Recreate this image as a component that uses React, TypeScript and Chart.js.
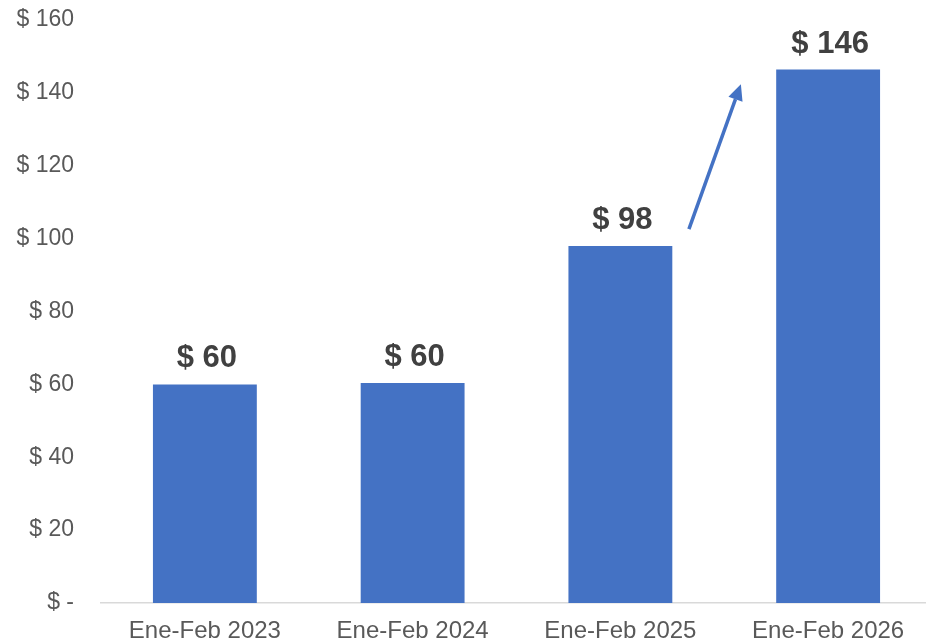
import React, { useEffect, useRef } from "react";
import { Chart, registerables } from "chart.js";

Chart.register(...registerables);

const categories = ["Ene-Feb 2023", "Ene-Feb 2024", "Ene-Feb 2025", "Ene-Feb 2026"];
const values = [60.0, 60.4, 98.0, 146.4];
const yTicks = [0, 20, 40, 60, 80, 100, 120, 140, 160];
// arrow annotation in data units: [category position, value]
const arrowFrom = [2.33, 102.6];
const arrowTo = [2.58, 142.4];

const BLUE = "#4472C4";
const FONT = "'Liberation Sans', Arial, sans-serif";

const labelsPlugin = {
  id: "barLabels",
  afterDatasetsDraw(chart: any) {
    const { ctx } = chart;
    const meta = chart.getDatasetMeta(0);
    ctx.save();
    ctx.font = `bold 31px ${FONT}`;
    ctx.fillStyle = "#404040";
    ctx.textAlign = "center";
    ctx.textBaseline = "alphabetic";
    meta.data.forEach((bar: any, i: number) => {
      ctx.fillText("$ " + Math.round(values[i]), bar.x + 2, bar.y - 17);
    });
    ctx.restore();
  },
};

const arrowPlugin = {
  id: "arrow",
  afterDatasetsDraw(chart: any) {
    const { ctx, scales } = chart;
    const xs = scales.x;
    const ys = scales.y;
    const n = categories.length;
    const x1 = xs.getPixelForDecimal((arrowFrom[0] + 0.5) / n);
    const y1 = ys.getPixelForValue(arrowFrom[1]);
    const x2 = xs.getPixelForDecimal((arrowTo[0] + 0.5) / n);
    const y2 = ys.getPixelForValue(arrowTo[1]);
    const ang = Math.atan2(y2 - y1, x2 - x1);
    const headLen = 16;
    const headW = 7.5;
    const bx = x2 - headLen * Math.cos(ang);
    const by = y2 - headLen * Math.sin(ang);
    ctx.save();
    ctx.strokeStyle = BLUE;
    ctx.fillStyle = BLUE;
    ctx.lineWidth = 3.5;
    ctx.beginPath();
    ctx.moveTo(x1, y1);
    ctx.lineTo(bx, by);
    ctx.stroke();
    ctx.beginPath();
    ctx.moveTo(x2, y2);
    ctx.lineTo(bx + headW * Math.sin(ang), by - headW * Math.cos(ang));
    ctx.lineTo(bx - headW * Math.sin(ang), by + headW * Math.cos(ang));
    ctx.closePath();
    ctx.fill();
    ctx.restore();
  },
};

export default function App() {
  const ref = useRef<HTMLCanvasElement>(null);
  useEffect(() => {
    document.documentElement.style.overflow = "hidden";
    document.body.style.overflow = "hidden";
    const chart = new Chart(ref.current!, {
      type: "bar",
      data: {
        labels: categories,
        datasets: [
          {
            data: values,
            backgroundColor: BLUE,
            borderWidth: 0,
            barPercentage: 0.5,
            categoryPercentage: 1,
          },
        ],
      },
      options: {
        animation: false,
        responsive: false,
        maintainAspectRatio: false,
        devicePixelRatio: 1,
        layout: { padding: { top: 20, right: 0, bottom: 0, left: 0 } },
        plugins: { legend: { display: false }, tooltip: { enabled: false } },
        scales: {
          x: {
            grid: { display: false, drawTicks: false },
            border: { display: true, color: "#D9D9D9", width: 1.5 },
            ticks: { color: "#595959", font: { family: FONT, size: 24 }, padding: 14 },
            afterFit(scale: any) {
              scale.height = 39;
              scale.paddingLeft = 0;
              scale.paddingRight = 0;
            },
          },
          y: {
            min: 0,
            max: 160,
            afterBuildTicks(scale: any) {
              scale.ticks = yTicks.map((v) => ({ value: v }));
            },
            grid: { display: false, drawTicks: false },
            border: { display: false },
            ticks: {
              color: "#595959",
              font: { family: FONT, size: 23 },
              padding: 27,
              callback: (v: any) => (Number(v) === 0 ? "$ -" : "$ " + v),
            },
            afterFit(scale: any) {
              scale.width = 101;
              scale.paddingTop = 0;
              scale.paddingBottom = 0;
            },
          },
        },
      },
      plugins: [labelsPlugin, arrowPlugin],
    });
    return () => chart.destroy();
  }, []);
  return (
    <canvas
      ref={ref}
      width={932}
      height={642}
      style={{ position: "absolute", left: 0, top: 0, width: 932, height: 642 }}
    />
  );
}
